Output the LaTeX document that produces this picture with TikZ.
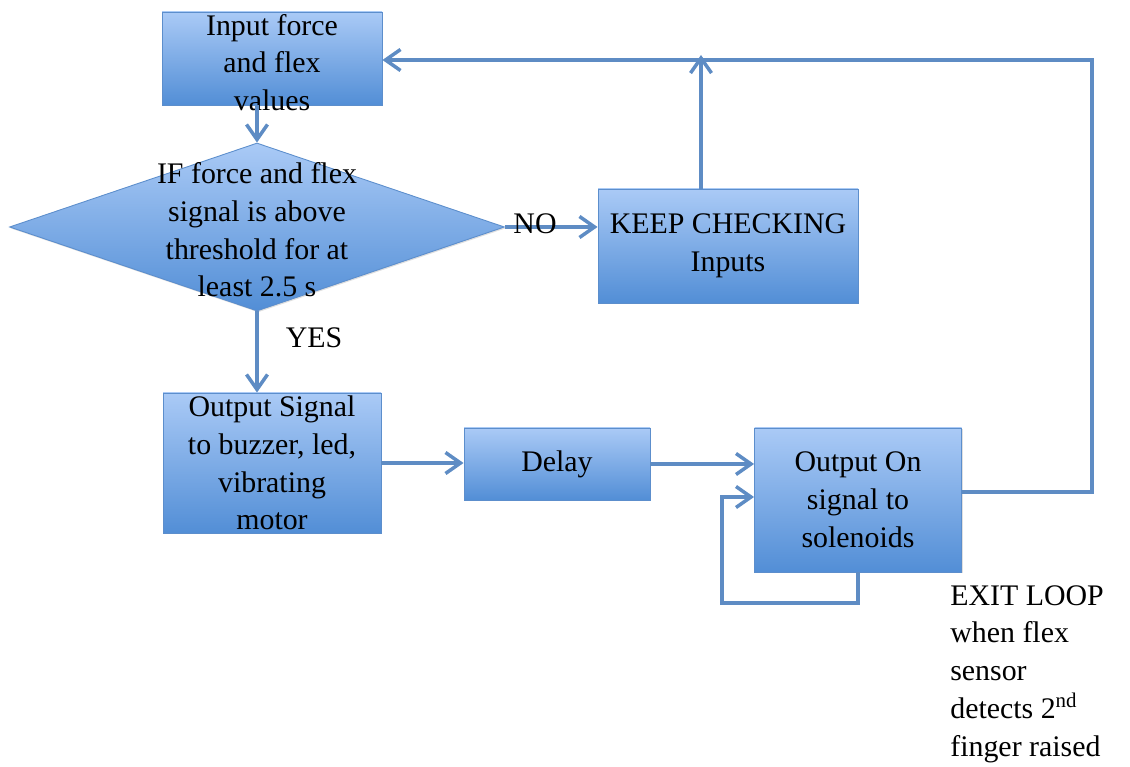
\documentclass[tikz,border=0pt]{standalone}
\usepackage{fontspec}
\setmainfont{Liberation Serif}
\usepackage{tikz}
\usetikzlibrary{positioning, arrows.meta, shapes.geometric, shadows, calc}

\definecolor{boxtop}{RGB}{170,202,246}
\definecolor{boxbot}{RGB}{82,142,214}
\definecolor{boxline}{RGB}{92,142,204}
\definecolor{flowline}{RGB}{94,140,196}

\begin{document}
\begin{tikzpicture}[
    box/.style={draw=boxline, line width=0.5pt, rectangle, top color=boxtop, bottom color=boxbot,
        drop shadow={opacity=0.25, shadow xshift=0.6pt, shadow yshift=-0.8pt},
        align=center, inner sep=0pt, font=\fontsize{17}{21.5}\selectfont},
    decision/.style={box, diamond, shape aspect=2.9},
    flow/.style={-{Straight Barb[length=0.3cm, width=0.42cm, line width=2pt]}, line width=2.2pt, flowline},
    lbl/.style={font=\fontsize{17}{21.5}\selectfont, align=left, inner sep=0pt},
]
\useasboundingbox (0,0) rectangle (22.6,-15.34);

% Blocks
\node[box, minimum width=4.4cm, minimum height=1.86cm] (inbox) at (5.44,-1.17) {};
\node[lbl, align=center] (inboxtxt) at (5.44,-1.25) {Input force\\and flex\\values};
\node[decision, minimum width=9.9cm, minimum height=3.36cm] (cond) at (5.14,-4.54) {};
\node[lbl, align=center] (condtxt) at (5.14,-4.6) {IF force and flex\\signal is above\\threshold for at\\least 2.5 s};
\node[box, minimum width=5.2cm, minimum height=2.28cm] (keep) at (14.56,-4.92) {KEEP CHECKING\\Inputs};
\node[box, minimum width=4.36cm, minimum height=2.8cm] (outsig) at (5.44,-9.26) {Output Signal\\to buzzer, led,\\vibrating\\motor};
\node[box, minimum width=3.72cm, minimum height=1.44cm] (delay) at (11.14,-9.28) {Delay};
\node[box, minimum width=4.14cm, minimum height=2.88cm] (outon) at (17.16,-10.0) {Output On\\signal to\\solenoids};

% Helper points for the return paths
\coordinate (rt) at (21.84,-1.2);
\coordinate (lp) at (14.44,-12.06);
\coordinate (up) at (14.02,-1.1);

% Main flow
\draw[flow] (inbox.south -| cond.north) -- (cond.north);
\draw[flow] (cond.east) -- (cond.east -| keep.west);
\node[lbl] (no) at (10.7,-4.48) {NO};
\draw[flow] (cond.south) -- (cond.south |- outsig.north);
\node[lbl] (yes) at (6.28,-6.76) {YES};
\draw[flow] (keep.north -| up) -- (up);
\draw[flow] (outsig.east) -- (outsig.east -| delay.west);
\draw[flow] (delay.east) -- (delay.east -| outon.west);

% Return to the input block
\draw[flow] ([yshift=0.16cm]outon.east) -| (rt) -- (rt -| inbox.east);

% Solenoid loop
\draw[flow] (outon.south) |- (lp) |- ([yshift=0.06cm]outon.west);

% Exit note
\node[lbl, anchor=north west] (exitnote) at (19.0,-11.7) {EXIT LOOP\\when flex\\sensor\\detects 2\textsuperscript{nd}\\finger raised};

\end{tikzpicture}
\end{document}
